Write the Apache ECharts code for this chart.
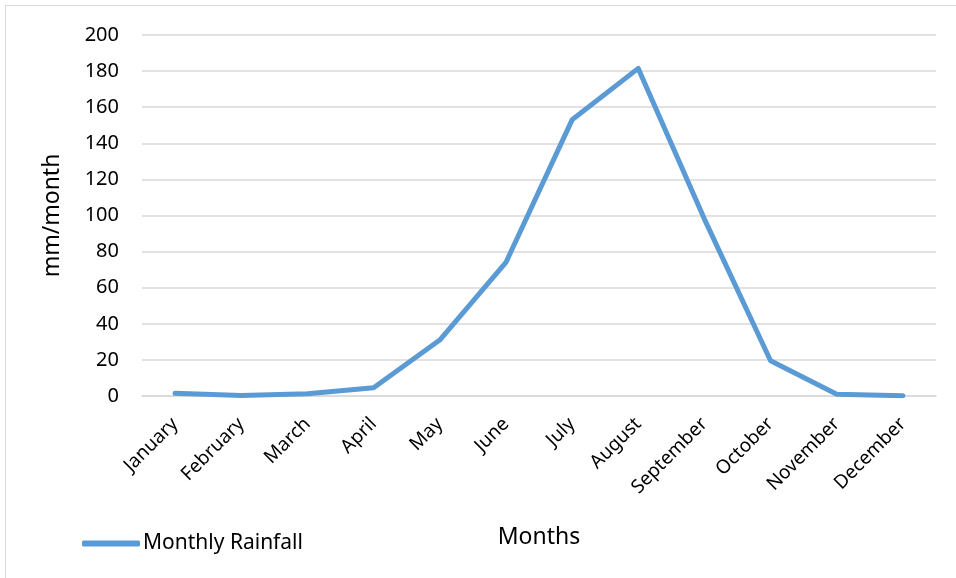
<!DOCTYPE html>
<html>
<head>
<meta charset="utf-8">
<script src="https://cdn.jsdelivr.net/npm/echarts@6/dist/echarts.min.js"></script>
<style>
  html, body { margin: 0; padding: 0; background: #fff; }
  #frame { position: absolute; left: 5px; top: 5px; width: 1000px; height: 1000px; border: 1px solid #d9d9d9; }
  #chart { position: absolute; left: 0; top: 0; width: 956px; height: 578px; }
</style>
</head>
<body>
<div id="frame"></div>
<div id="chart"></div>
<script>
const months = ["January", "February", "March", "April", "May", "June",
    "July", "August", "September", "October", "November", "December"];
const rainfall = [1.5, 0.3, 1.2, 4.6, 31, 74, 153, 181.5, 98, 19.5, 1, 0.2];
const yTicks = { min: 0, max: 200, interval: 20 };

const chart = echarts.init(document.getElementById("chart"));
const font = "Noto Sans";

chart.setOption({
    animation: false,
    grid: { left: 142, right: 20, top: 35, bottom: 182 },
    legend: {
        left: 77, top: 528,
        icon: "roundRect", itemWidth: 58, itemHeight: 6, itemGap: 4,
        textStyle: { fontFamily: font, fontSize: 21, color: "#000", padding: [0, 0, 0, -2] },
        data: ["Monthly Rainfall"]
    },
    xAxis: {
        type: "category",
        data: months,
        name: "Months",
        nameLocation: "middle",
        nameGap: 130,
        nameTextStyle: { fontFamily: font, fontSize: 23, color: "#000" },
        axisLine: { lineStyle: { color: "#d9d9d9", width: 1.5 } },
        axisTick: { show: false },
        axisLabel: { rotate: 45, margin: 25, interval: 0, fontFamily: font, fontSize: 19, color: "#000" }
    },
    yAxis: {
        type: "value",
        min: yTicks.min, max: yTicks.max, interval: yTicks.interval,
        name: "mm/month",
        nameLocation: "middle",
        nameGap: 78,
        nameTextStyle: { fontFamily: font, fontSize: 23, color: "#000" },
        axisLine: { show: false },
        axisTick: { show: false },
        axisLabel: { margin: 23, fontFamily: font, fontSize: 20, color: "#000" },
        splitLine: { lineStyle: { color: "#d9d9d9", width: 1.5 } }
    },
    series: [{
        name: "Monthly Rainfall",
        type: "line",
        data: rainfall,
        symbol: "none",
        lineStyle: { color: "#5b9bd5", width: 5, cap: "round", join: "round" },
        itemStyle: { color: "#5b9bd5" }
    }]
});
</script>
</body>
</html>
